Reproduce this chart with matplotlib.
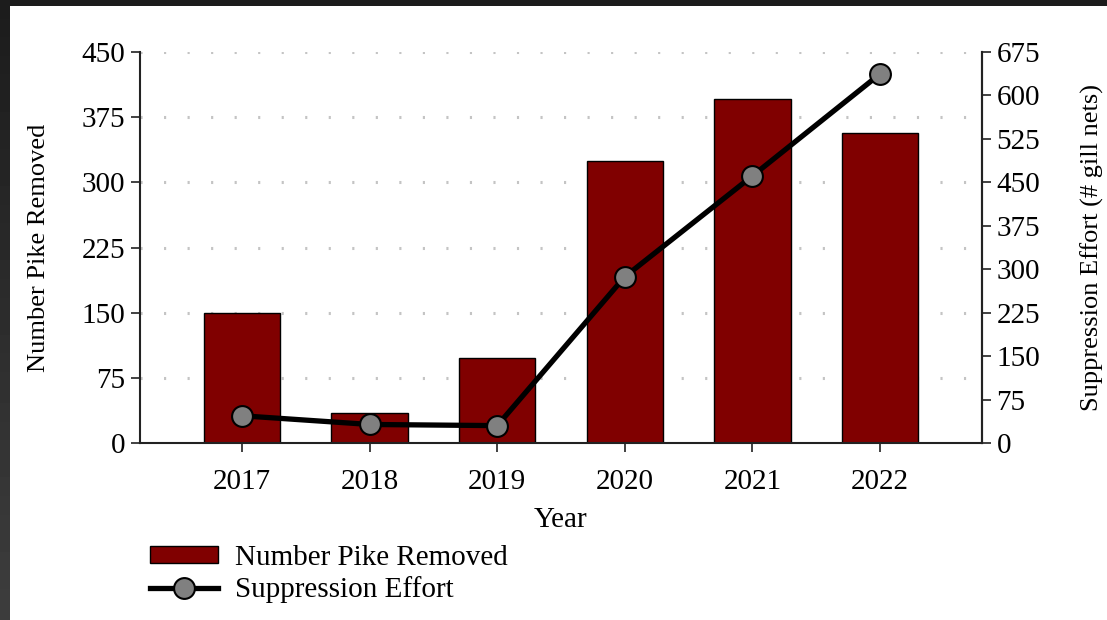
import numpy as np
import matplotlib
matplotlib.use("Agg")
import matplotlib.pyplot as plt
from matplotlib.patches import Rectangle

years = ["2017", "2018", "2019", "2020", "2021", "2022"]
pike_removed = [150, 35, 98, 325, 396, 357]
suppression_effort = [47, 32, 30, 287, 461, 637]
left_ticks = [0, 75, 150, 225, 300, 375, 450]
right_ticks = [0, 75, 150, 225, 300, 375, 450, 525, 600, 675]

plt.rcParams['font.family'] = ['Liberation Serif', 'DejaVu Serif']
FS = 21
LFS = 19

W, H = 1107, 620
fig = plt.figure(figsize=(W / 100, H / 100), dpi=100)
fig.patch.set_facecolor('white')

# dark screenshot frame
bg = fig.add_axes([0, 0, 10 / W, 1])
grad = np.linspace(0.11, 0.24, 100).reshape(-1, 1)
bg.imshow(grad, cmap='gray', vmin=0, vmax=1, aspect='auto', extent=[0, 1, 0, 1], origin='upper')
bg.axis('off')
fig.patches.append(Rectangle((0, 1 - 6 / H), 1, 6 / H, transform=fig.transFigure,
                             facecolor='#1c1c1c', edgecolor='none', zorder=10))

ax = fig.add_axes([140 / W, 1 - 443 / H, (982 - 140) / W, (443 - 52) / H])
x = np.arange(len(years))
ax.set_xlim(-0.8, len(years) - 0.2)
ax.set_ylim(0, 450)

for yv in left_ticks[1:]:
    ax.axhline(yv, color='#c4c4c4', lw=2.2, linestyle=(0, (0.7, 7.0)), zorder=0)

bars = ax.bar(x, pike_removed, width=0.6, color='#800000', edgecolor='black', lw=1.0,
              zorder=2, label='Number Pike Removed')
ax.set_yticks(left_ticks)
ax.set_xticks(x)
ax.set_xticklabels(years)
ax.tick_params(axis='both', labelsize=FS, direction='out', length=6.5, width=1.3, color='#333333', pad=4)
ax.tick_params(axis='x', pad=12)
for s in ['left', 'bottom', 'right']:
    ax.spines[s].set_linewidth(1.5)
    ax.spines[s].set_color('#222222')
ax.spines['top'].set_visible(False)
ax.set_ylabel('Number Pike Removed', fontsize=LFS, labelpad=23)
ax.set_xlabel('Year', fontsize=21, labelpad=9)

ax2 = ax.twinx()
ax2.set_ylim(0, 675)
ax2.set_yticks(right_ticks)
line, = ax2.plot(x, suppression_effort, color='black', lw=3.8, marker='o', markersize=15,
                 markerfacecolor='#808080', markeredgecolor='black', markeredgewidth=1.5,
                 zorder=3, label='Suppression Effort')
ax2.tick_params(axis='y', labelsize=FS, direction='out', length=6.5, width=1.3, color='#333333', pad=4)
for s in ['left', 'bottom', 'right', 'top']:
    ax2.spines[s].set_visible(False)
ax2.spines['right'].set_visible(True)
ax2.spines['right'].set_linewidth(1.5)
ax2.spines['right'].set_color('#222222')
ax2.set_ylabel('Suppression Effort (# gill nets)', fontsize=LFS, labelpad=29)

leg = fig.legend([bars, line], ['Number Pike Removed', 'Suppression Effort'],
                 loc='upper left', bbox_to_anchor=(138 / W, 1 - 533 / H), frameon=False,
                 fontsize=FS, handlelength=2.35, handleheight=0.55, labelspacing=0.2,
                 handletextpad=0.58, borderaxespad=0)

fig.savefig('out.png', dpi=100, facecolor='white')
